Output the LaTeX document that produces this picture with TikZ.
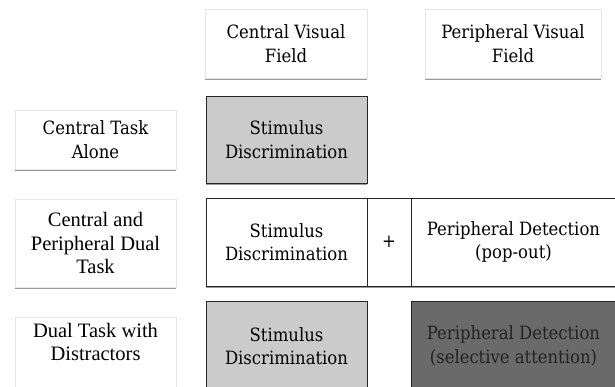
\documentclass[tikz,border=0pt]{standalone}
\usepackage{fontspec}
\setmainfont{Liberation Serif}
\newfontfamily\camfont{DejaVu Serif Condensed}
\usetikzlibrary{shadows}
\definecolor{lightfill}{HTML}{CBCBCB}
\definecolor{darkfill}{HTML}{6A6A6A}
\definecolor{darktext}{HTML}{222222}
\begin{document}
\begin{tikzpicture}[x=1pt,y=-1pt,
  shade/.style={drop shadow={shadow xshift=0pt,shadow yshift=-2.2pt,opacity=0.4,fill=black}},
  camtext/.style={font=\camfont\fontsize{18.3}{23.5}\selectfont},
  hdr/.style={shade,fill=white,draw=black!10,line width=0.5pt,inner sep=0pt,align=center,camtext},
  lbl/.style={shade,fill=white,draw=black!10,line width=0.5pt,inner sep=0pt,align=center,
    font=\fontsize{20.5}{23.5}\selectfont},
  cell/.style={draw=black!85,line width=0.9pt,inner sep=0pt,align=center,camtext},
  txt/.style={inner sep=0pt,align=center}]
\useasboundingbox (0,0) rectangle (615,387);
\fill[white] (0,0) rectangle (615,387);
\clip (0,0) rectangle (615,387);
% headers
\node[hdr,minimum width=162pt,minimum height=69pt] (hc) at (286,43.5) {Central Visual\\Field};
\node[hdr,minimum width=176pt,minimum height=69pt] (hp) at (513,43.5) {Peripheral Visual\\Field};
% row 1
\node[lbl,camtext,minimum width=161pt,minimum height=59pt] (l1) at (95.5,139.5) {Central Task\\Alone};
\node[cell,shade,fill=lightfill,minimum width=161pt,minimum height=87pt] (s1) at (286.5,139.5) {Stimulus\\Discrimination};
% row 2
\node[lbl,minimum width=161pt,minimum height=88pt] (l2) at (95.5,243) {Central and\\Peripheral Dual\\Task};
\node[cell,shade,fill=white,minimum width=161pt,minimum height=88pt] (s2) at (286.5,242) {Stimulus\\Discrimination};
\node[cell,shade,fill=white,minimum width=44pt,minimum height=88pt] (pl) at (389,242) {+};
\node[cell,shade,fill=white,minimum width=205pt,minimum height=88pt] (pd) at (513.5,242) {Peripheral Detection\\(pop-out)};
% row 3
\node[lbl,minimum width=161pt,minimum height=80pt] (l3) at (95.5,357) {};
\node[txt,font=\fontsize{20.5}{23.5}\selectfont] (l3t) at (95.5,342) {Dual Task with\\Distractors};
\node[cell,fill=lightfill,minimum width=161pt,minimum height=90pt] (s3) at (286.5,346) {};
\node[txt,camtext] (s3t) at (286.5,346) {Stimulus\\Discrimination};
\node[cell,fill=darkfill,minimum width=205pt,minimum height=90pt] (ps) at (513.5,346) {};
\node[txt,camtext,text=darktext] (pst) at (513.5,346) {Peripheral Detection\\(selective attention)};
\end{tikzpicture}
\end{document}
